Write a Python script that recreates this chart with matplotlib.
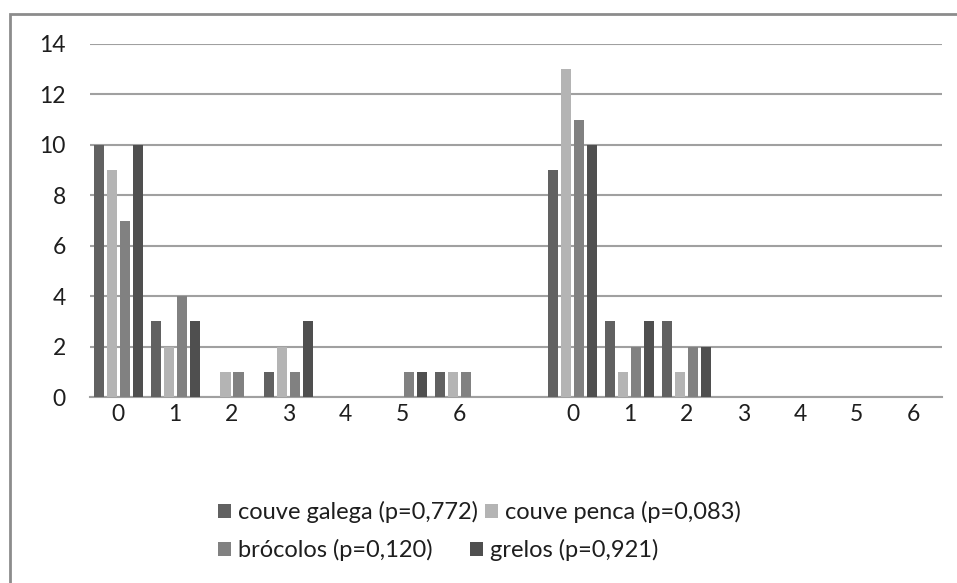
import matplotlib
matplotlib.use("Agg")
import matplotlib.pyplot as plt
from matplotlib.patches import Rectangle, Patch
import numpy as np

plt.rcParams['font.family'] = ['Lato', 'DejaVu Sans']

categories = ['0', '1', '2', '3', '4', '5', '6', '', '0', '1', '2', '3', '4', '5', '6']
series_names = ['couve galega (p=0,772)', 'couve penca (p=0,083)',
                'brócolos (p=0,120)', 'grelos (p=0,921)']
couve_galega = [10, 3, 0, 1, 0, 0, 1, 0, 9, 3, 3, 0, 0, 0, 0]
couve_penca = [9, 2, 1, 2, 0, 0, 1, 0, 13, 1, 1, 0, 0, 0, 0]
brocolos = [7, 4, 1, 1, 0, 1, 1, 0, 11, 2, 2, 0, 0, 0, 0]
grelos = [10, 3, 0, 3, 0, 1, 0, 0, 10, 3, 2, 0, 0, 0, 0]
colors = ['#616161', '#b4b4b4', '#818181', '#4f4f4f']
yticks = [0, 2, 4, 6, 8, 10, 12, 14]

W, H = 957, 583
fig = plt.figure(figsize=(W / 100, H / 100), dpi=100)
fig.patch.set_facecolor('white')

# outer frame
fig.patches.append(Rectangle((9.5 / W, -0.1), 1.2, (H - 14.5) / H + 0.1,
                             transform=fig.transFigure, fill=False,
                             edgecolor='#8c8c8c', linewidth=2))

ax = fig.add_axes([90 / W, (H - 397) / H, (942 - 90) / W, (397 - 44) / H])
x = np.arange(len(categories))
step = 0.229
width = 0.178
all_series = [couve_galega, couve_penca, brocolos, grelos]
for i, (vals, c) in enumerate(zip(all_series, colors)):
    ax.bar(x + (i - 1.5) * step, vals, width=width, color=c, zorder=3)

ax.set_xlim(-0.5, len(categories) - 0.5)
ax.set_ylim(0, 14)
ax.set_yticks(yticks)
ax.set_yticklabels([str(v) for v in yticks])
ax.set_xticks(x)
ax.set_xticklabels(categories)
ax.yaxis.grid(True, color='#a0a0a0', linewidth=1.5, zorder=0)
ax.set_axisbelow(True)
for s in ['top', 'right', 'left']:
    ax.spines[s].set_visible(False)
ax.spines['bottom'].set_color('#a0a0a0')
ax.spines['bottom'].set_linewidth(1.5)
ax.tick_params(axis='both', length=0, labelsize=16.5, colors='#1e1e1e')
ax.tick_params(axis='y', pad=17.5)
ax.tick_params(axis='x', pad=5)

# legend entries placed like the original (flowing layout)
legend_pos = [(218, 512), (485, 512), (218, 550), (470, 550)]
for name, c, (px, py) in zip(series_names, colors, legend_pos):
    fig.legend([Patch(facecolor=c, edgecolor='none')], [name],
               loc='center left', bbox_to_anchor=(px / W, 1 - py / H),
               frameon=False, fontsize=17, handlelength=0.55,
               handleheight=0.55, handletextpad=0.3, borderpad=0,
               borderaxespad=0, labelcolor='#1e1e1e')

fig.savefig('out.png', dpi=100)
